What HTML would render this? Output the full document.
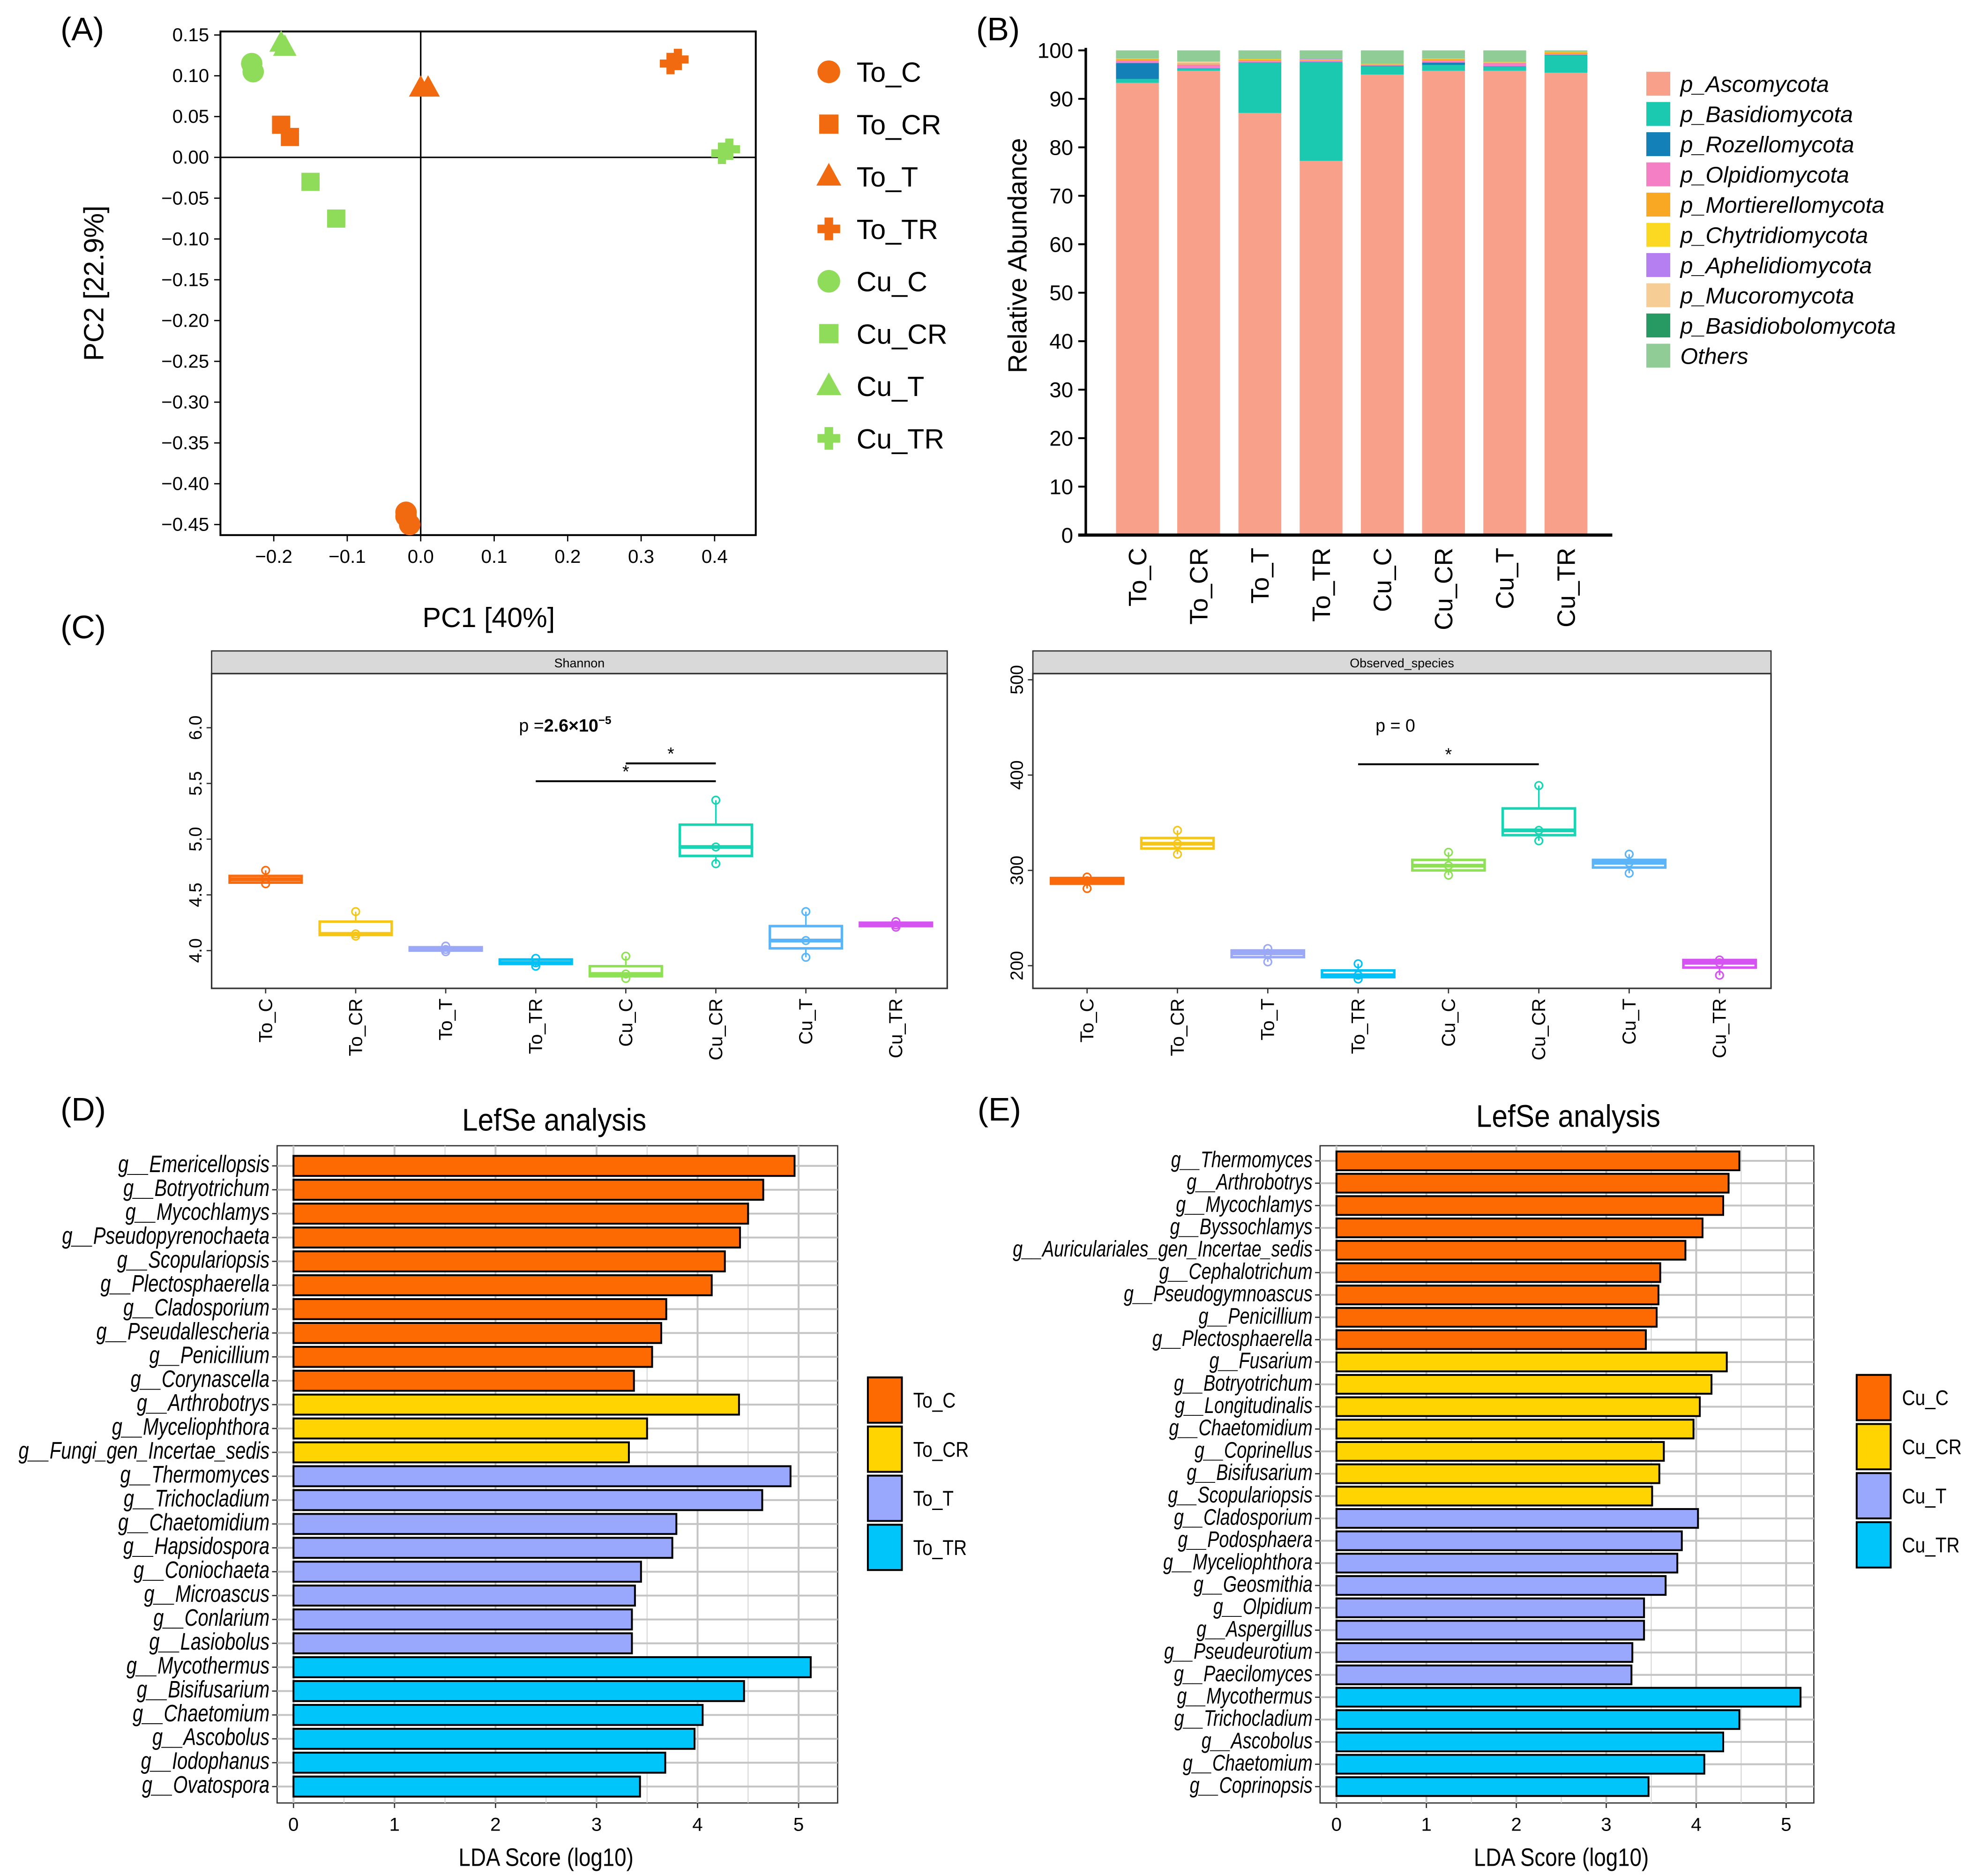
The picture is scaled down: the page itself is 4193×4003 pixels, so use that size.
<!DOCTYPE html>
<html><head><meta charset="utf-8"><style>
html,body{margin:0;padding:0;background:#fff;}
svg{display:block;font-family:"Liberation Sans",Arial,sans-serif;}
</style></head><body>
<svg id="fig" width="4193" height="4003" viewBox="0 0 1560 1490" preserveAspectRatio="none" xmlns="http://www.w3.org/2000/svg">
<rect x="0" y="0" width="1560" height="1490" fill="#fff"/>
<text x="48" y="32" font-size="26">(A)</text>
<text x="775" y="32" font-size="26">(B)</text>
<text x="48" y="507" font-size="26">(C)</text>
<text x="48" y="890" font-size="26">(D)</text>
<text x="776" y="890" font-size="26">(E)</text>
<g id="pA"></g>
<g id="pB"></g>
<g id="pC1"></g>
<g id="pC2"></g>
<g id="pD"></g>
<g id="pE"></g>
</svg>
<script>
// ---------- Panel A data ----------
const pcaGroups = ["To_C","To_CR","To_T","To_TR","Cu_C","Cu_CR","Cu_T","Cu_TR"];
const pcaPC1 = [[-0.02,-0.015,-0.02],[-0.19,-0.178],[0.0,0.01],[0.34,0.35],[-0.23,-0.228],[-0.15,-0.115],[-0.19,-0.185],[0.41,0.42]];
const pcaPC2 = [[-0.435,-0.45,-0.44],[0.04,0.025],[0.085,0.085],[0.115,0.12],[0.115,0.105],[-0.03,-0.075],[0.14,0.135],[0.005,0.01]];
const pcaXTicks = [-0.2,-0.1,0,0.1,0.2,0.3,0.4];
const pcaXTickLabels = ["\u22120.2","\u22120.1","0.0","0.1","0.2","0.3","0.4"];
const pcaYTicks = [0.15,0.1,0.05,0,-0.05,-0.1,-0.15,-0.2,-0.25,-0.3,-0.35,-0.4,-0.45];
// ---------- Panel B data ----------
const abCats = ["To_C","To_CR","To_T","To_TR","Cu_C","Cu_CR","Cu_T","Cu_TR"];
const abPhyla = ["p_Ascomycota","p_Basidiomycota","p_Rozellomycota","p_Olpidiomycota","p_Mortierellomycota","p_Chytridiomycota","p_Aphelidiomycota","p_Mucoromycota","p_Basidiobolomycota","Others"];
const abAsco = [93.3,95.8,87.1,77.2,95.0,95.8,95.8,95.4];
const abBasid = [0.8,0.4,10.3,20.3,1.7,1.2,0.8,3.6];
const abRozel = [3.3,0.1,0.1,0.1,0.1,0.5,0.1,0.1];
const abOlpid = [0.5,0.7,0.3,0.3,0.2,0.4,0.7,0.1];
const abMort = [0.3,0.1,0.3,0.1,0.1,0.3,0.1,0.4];
const abChyt = [0.1,0.1,0.1,0.1,0.1,0.1,0.1,0.1];
const abAphel = [0.0,0.1,0.0,0.1,0.0,0.0,0.0,0.0];
const abMuco = [0.0,0.4,0.0,0.0,0.0,0.0,0.0,0.0];
const abBasidio = [0.0,0.0,0.0,0.0,0.0,0.0,0.0,0.0];
const abOthers = [1.7,2.3,1.8,1.8,2.8,1.7,2.4,0.3];
const abYTicks = [0,10,20,30,40,50,60,70,80,90,100];
// ---------- Panel C data ----------
const divCats = ["To_C","To_CR","To_T","To_TR","Cu_C","Cu_CR","Cu_T","Cu_TR"];
const shQ1 = [4.61,4.14,4.00,3.88,3.77,4.85,4.02,4.22];
const shMed = [4.64,4.15,4.01,3.89,3.79,4.93,4.09,4.23];
const shQ3 = [4.67,4.26,4.03,3.92,3.86,5.13,4.22,4.25];
const shMin = [4.60,4.13,3.99,3.86,3.75,4.78,3.94,4.21];
const shMax = [4.72,4.35,4.04,3.93,3.95,5.35,4.35,4.26];
const shYTicks = [4.0,4.5,5.0,5.5,6.0];
const obQ1 = [286,323,209,188,300,337,303,198];
const obMed = [289,328,213,190,305,342,308,203];
const obQ3 = [292,334,216,195,311,365,311,206];
const obMin = [281,317,204,186,295,331,297,190];
const obMax = [293,342,218,202,319,389,317,206];
const obYTicks = [200,300,400,500];
// ---------- Panel D data ----------
const dTaxa = ["g__Emericellopsis","g__Botryotrichum","g__Mycochlamys","g__Pseudopyrenochaeta","g__Scopulariopsis","g__Plectosphaerella","g__Cladosporium","g__Pseudallescheria","g__Penicillium","g__Corynascella","g__Arthrobotrys","g__Myceliophthora","g__Fungi_gen_Incertae_sedis","g__Thermomyces","g__Trichocladium","g__Chaetomidium","g__Hapsidospora","g__Coniochaeta","g__Microascus","g__Conlarium","g__Lasiobolus","g__Mycothermus","g__Bisifusarium","g__Chaetomium","g__Ascobolus","g__Iodophanus","g__Ovatospora"];
const dLDA = [4.96,4.65,4.50,4.42,4.27,4.14,3.69,3.64,3.55,3.37,4.41,3.50,3.32,4.92,4.64,3.79,3.75,3.44,3.38,3.35,3.35,5.12,4.46,4.05,3.97,3.68,3.43];
const dGroup = [0,0,0,0,0,0,0,0,0,0,1,1,1,2,2,2,2,2,2,2,2,3,3,3,3,3,3];
const dLegend = ["To_C","To_CR","To_T","To_TR"];
// ---------- Panel E data ----------
const eTaxa = ["g__Thermomyces","g__Arthrobotrys","g__Mycochlamys","g__Byssochlamys","g__Auriculariales_gen_Incertae_sedis","g__Cephalotrichum","g__Pseudogymnoascus","g__Penicillium","g__Plectosphaerella","g__Fusarium","g__Botryotrichum","g__Longitudinalis","g__Chaetomidium","g__Coprinellus","g__Bisifusarium","g__Scopulariopsis","g__Cladosporium","g__Podosphaera","g__Myceliophthora","g__Geosmithia","g__Olpidium","g__Aspergillus","g__Pseudeurotium","g__Paecilomyces","g__Mycothermus","g__Trichocladium","g__Ascobolus","g__Chaetomium","g__Coprinopsis"];
const eLDA = [4.48,4.36,4.30,4.07,3.88,3.60,3.58,3.56,3.44,4.34,4.17,4.04,3.97,3.64,3.59,3.51,4.02,3.84,3.79,3.66,3.42,3.42,3.29,3.28,5.16,4.48,4.30,4.09,3.47];
const eGroup = [0,0,0,0,0,0,0,0,0,1,1,1,1,1,1,1,2,2,2,2,2,2,2,2,3,3,3,3,3];
const eLegend = ["Cu_C","Cu_CR","Cu_T","Cu_TR"];
const ldaTicks = [0,1,2,3,4,5];

const NS="http://www.w3.org/2000/svg";
function mk(parent,tag,attrs,text){const e=document.createElementNS(NS,tag);for(const k in attrs)e.setAttribute(k,attrs[k]);if(text!==undefined)e.textContent=text;parent.appendChild(e);return e;}

// ===== Panel A =====
(function(){
const g=document.getElementById('pA');
const X0=175,X1=600,Y0=25,Y1=425;
const sx=v=>334+v*583.3, sy=v=>125-v*648;
mk(g,'rect',{x:X0,y:Y0,width:X1-X0,height:Y1-Y0,fill:'none',stroke:'#000','stroke-width':1.5});
mk(g,'line',{x1:sx(0),x2:sx(0),y1:Y0,y2:Y1,stroke:'#000','stroke-width':1.2});
mk(g,'line',{x1:X0,x2:X1,y1:sy(0),y2:sy(0),stroke:'#000','stroke-width':1.2});
pcaXTicks.forEach((t,i)=>{const x=sx(t);mk(g,'line',{x1:x,x2:x,y1:Y1,y2:Y1+5,stroke:'#000'});
 const tx=mk(g,'text',{x:x,y:Y1+22,'font-size':15,'text-anchor':'middle'},pcaXTickLabels[i]);
 
 });
pcaYTicks.forEach(t=>{const y=sy(t);mk(g,'line',{x1:X0-5,x2:X0,y1:y,y2:y,stroke:'#000'});
 const tx=mk(g,'text',{x:X0-9,y:y+5,'font-size':15,'text-anchor':'end'},(t<0?'\u2212':'')+Math.abs(t).toFixed(2));
 
 });
const xl=mk(g,'text',{x:388,y:498,'font-size':22,'text-anchor':'middle'},'PC1 [40%]');


const yl=mk(g,'text',{x:0,y:0,'font-size':22,'text-anchor':'middle',transform:'translate(82,225) rotate(-90)'},'PC2 [22.9%]');


const colors=['#f26a0f','#f26a0f','#f26a0f','#f26a0f','#8fdb5a','#8fdb5a','#8fdb5a','#8fdb5a'];
const shapes=['c','s','t','p','c','s','t','p'];
function shape(par,sh,x,y,col,r){
 if(sh==='c') return mk(par,'circle',{cx:x,cy:y,r:r,fill:col});
 if(sh==='s') return mk(par,'rect',{x:x-r*0.85,y:y-r*0.85,width:r*1.7,height:r*1.7,fill:col});
 if(sh==='t') return mk(par,'polygon',{points:`${x},${y-r*1.2} ${x-r*1.1},${y+r*0.8} ${x+r*1.1},${y+r*0.8}`,fill:col});
 const a=r*0.38;return mk(par,'path',{d:`M${x-a},${y-r}h${2*a}v${r-a}h${r-a}v${2*a}h${-(r-a)}v${r-a}h${-2*a}v${-(r-a)}h${-(r-a)}v${-2*a}h${r-a}z`,fill:col});
}
pcaGroups.forEach((gr,i)=>{pcaPC1[i].forEach((v,j)=>{
 const m=shape(g,shapes[i],sx(v),sy(pcaPC2[i][j]),colors[i],8.5);
 
 });
 const ly=57+i*41.6;
 const lm=shape(g,shapes[i],658,ly,colors[i],9);
 
 
 const lt=mk(g,'text',{x:680,y:ly+8,'font-size':22},gr);
 
 
});
})();

// ===== Panel B =====
(function(){
const g=document.getElementById('pB');
const X0=862,Y0=425,H=385;
const sy=v=>Y0-v/100*H;
const series=[abAsco,abBasid,abRozel,abOlpid,abMort,abChyt,abAphel,abMuco,abBasidio,abOthers];
const cols=['#f9a08a','#1ac9b0','#1380b8','#f57fc5','#f8a823','#fbd923','#b57ff2','#f5cd95','#279962','#8fcc96'];
abCats.forEach((c,i)=>{const cx=903+i*48.6;let acc=0;
 series.forEach((s,k)=>{const v=s[i];if(v<=0)return;
  const r=mk(g,'rect',{x:cx-17,y:sy(acc+v),width:34,height:sy(acc)-sy(acc+v),fill:cols[k]});
  
  acc+=v;});
 const t=mk(g,'text',{x:0,y:0,'font-size':20,'text-anchor':'end',transform:`translate(${cx+7},${Y0+10}) rotate(-90)`},c);
 
 
});
mk(g,'line',{x1:X0,x2:X0,y1:sy(100)-2,y2:Y0,stroke:'#000','stroke-width':2});
mk(g,'line',{x1:X0-6,x2:1280,y1:Y0,y2:Y0,stroke:'#000','stroke-width':2.5});
abYTicks.forEach(t=>{const y=sy(t);mk(g,'line',{x1:X0-6,x2:X0,y1:y,y2:y,stroke:'#000','stroke-width':1.5});
 const tx=mk(g,'text',{x:X0-10,y:y+6,'font-size':17,'text-anchor':'end'},t);
 
 });
const yl=mk(g,'text',{x:0,y:0,'font-size':21,'text-anchor':'middle',transform:'translate(815,203) rotate(-90)'},'Relative Abundance');


abPhyla.forEach((p,k)=>{const y=57+k*24;
 const r=mk(g,'rect',{x:1307,y:y,width:19,height:19,fill:cols[k]});
 
 
 const t=mk(g,'text',{x:1334,y:y+16,'font-size':18,'font-style':'italic'},p);
 
 });
})();

// ===== Panel C =====
const boxCols=['#fb6a0a','#f5c518','#9aa8f5','#00c0f5','#8ee055','#1ad3b3','#5cb4f8','#d553f0'];
function boxPlot(id,X0,X1,title,yv,ySc,ticks,q1,med,q3,mn,mx,tickFmt){
 const g=document.getElementById(id);
 const Y0=535,Y1=785;
 const head=mk(g,'rect',{x:X0,y:517,width:X1-X0,height:18,fill:'#d9d9d9',stroke:'#333','stroke-width':1});
 
 
 const ht=mk(g,'text',{x:(X0+X1)/2,y:530,'font-size':10,'text-anchor':'middle'},title);
 
 
 mk(g,'rect',{x:X0,y:Y0,width:X1-X0,height:Y1-Y0,fill:'none',stroke:'#333','stroke-width':1.2});
 ticks.forEach(t=>{const y=ySc(t);mk(g,'line',{x1:X0-4,x2:X0,y1:y,y2:y,stroke:'#333'});
  const tx=mk(g,'text',{x:0,y:0,'font-size':14,'text-anchor':'middle',transform:`translate(${X0-8},${y}) rotate(-90)`},tickFmt(t));
  
  });
 const step=(X1-X0)/8.17;
 divCats.forEach((c,i)=>{const cx=X0+step*0.6+i*step;const col=boxCols[i];const w=step*0.8;
  mk(g,'line',{x1:cx,x2:cx,y1:Y1,y2:Y1+4,stroke:'#333'});
  const t=mk(g,'text',{x:0,y:0,'font-size':15,'text-anchor':'end',transform:`translate(${cx+5},${Y1+8}) rotate(-90)`},c);
  
  
  const bg=mk(g,'g',{});
  
  
  mk(bg,'line',{x1:cx,x2:cx,y1:ySc(mx[i]),y2:ySc(q3[i]),stroke:col,'stroke-width':1.2});
  mk(bg,'line',{x1:cx,x2:cx,y1:ySc(q1[i]),y2:ySc(mn[i]),stroke:col,'stroke-width':1.2});
  mk(bg,'rect',{x:cx-w/2,y:ySc(q3[i]),width:w,height:Math.max(ySc(q1[i])-ySc(q3[i]),1.5),fill:'#fff',stroke:col,'stroke-width':2});
  mk(bg,'line',{x1:cx-w/2,x2:cx+w/2,y1:ySc(med[i]),y2:ySc(med[i]),stroke:col,'stroke-width':3});
  [mx[i],med[i],mn[i]].forEach(v=>mk(bg,'circle',{cx:cx,cy:ySc(v),r:3,fill:'none',stroke:col,'stroke-width':1.2}));
 });
 return {g,step,cx:i=>X0+step*0.6+i*step};
}
(function(){
 const sy=v=>755-(v-4)*88.5;
 const b=boxPlot('pC1',168,752,'Shannon',null,sy,shYTicks,shQ1,shMed,shQ3,shMin,shMax,t=>t.toFixed(1));
 const g=b.g;
 const p=mk(g,'text',{x:412,y:581,'font-size':14},'p =');
 mk(p,'tspan',{'font-weight':'bold','font-size':14},'2.6\u00d710');
 mk(p,'tspan',{'font-size':9,'font-weight':'bold',dy:-6},'\u22125');
 
 
 const l1=mk(g,'line',{x1:b.cx(4),x2:b.cx(5),y1:sy(5.68),y2:sy(5.68),stroke:'#000','stroke-width':1.5});
 
 
 mk(g,'text',{x:(b.cx(4)+b.cx(5))/2,y:sy(5.68)-3,'font-size':14,'text-anchor':'middle'},'*');
 const l2=mk(g,'line',{x1:b.cx(3),x2:b.cx(5),y1:sy(5.52),y2:sy(5.52),stroke:'#000','stroke-width':1.5});
 
 
 mk(g,'text',{x:b.cx(4),y:sy(5.52)-3,'font-size':14,'text-anchor':'middle'},'*');
})();
(function(){
 const sy=v=>767-(v-200)*0.757;
 const b=boxPlot('pC2',820,1406,'Observed_species',null,sy,obYTicks,obQ1,obMed,obQ3,obMin,obMax,t=>String(t));
 const g=b.g;
 const p=mk(g,'text',{x:1092,y:581,'font-size':14},'p = 0');
 
 
 const l=mk(g,'line',{x1:b.cx(3),x2:b.cx(5),y1:607,y2:607,stroke:'#000','stroke-width':1.5});
 
 
 mk(g,'text',{x:b.cx(4),y:604,'font-size':14,'text-anchor':'middle'},'*');
})();

// ===== Panels D/E =====
const lefCols=['#fd6a02','#ffd400','#99a8fd','#00c5fb'];
function lefse(id,X0,X1,Y0,Y1,zeroX,unit,firstY,rowStep,taxa,lda,grp,legend,titleX,titleY,legX,legY0,labFont){
 const g=document.getElementById(id);
 const sx=v=>zeroX+v*unit;
 const tt=mk(g,'text',{x:titleX,y:titleY,'font-size':25,'text-anchor':'middle',transform:`translate(${titleX*0.1},0) scale(0.9,1)`},'LefSe analysis');
 
 
 mk(g,'rect',{x:X0,y:Y0,width:X1-X0,height:Y1-Y0,fill:'#fff',stroke:'#333','stroke-width':1});
 for(let v=0.5;sx(v)<X1;v+=1) mk(g,'line',{x1:sx(v),x2:sx(v),y1:Y0,y2:Y1,stroke:'#d6d6d6','stroke-width':0.8});
 ldaTicks.forEach(t=>{mk(g,'line',{x1:sx(t),x2:sx(t),y1:Y0,y2:Y1,stroke:'#c4c4c4','stroke-width':1.5});
  mk(g,'line',{x1:sx(t),x2:sx(t),y1:Y1,y2:Y1+4,stroke:'#333'});
  const tx=mk(g,'text',{x:sx(t),y:Y1+22,'font-size':15,'text-anchor':'middle'},t);
  
  });
 taxa.forEach((n,i)=>{const y=firstY+i*rowStep;
  mk(g,'line',{x1:X0,x2:X1,y1:y,y2:y,stroke:'#c4c4c4','stroke-width':1.5});
  mk(g,'line',{x1:X0-4,x2:X0,y1:y,y2:y,stroke:'#333'});
  const r=mk(g,'rect',{x:sx(0),y:y-rowStep*0.42,width:sx(lda[i])-sx(0),height:rowStep*0.84,fill:lefCols[grp[i]],stroke:'#000','stroke-width':1.5});
  
  
  const t=mk(g,'text',{x:0,y:0,'font-size':labFont,'font-style':'italic','text-anchor':'end',transform:`translate(${X0-6},${y+5}) scale(0.78,1)`},n);
  
  
 });
 const xl=mk(g,'text',{x:0,y:0,'font-size':20,'text-anchor':'middle',transform:`translate(${(sx(0)+sx(5))/2},${Y1+50}) scale(0.85,1)`},'LDA Score (log10)');
 
 
 legend.forEach((l,k)=>{const y=legY0+k*39;
  const r=mk(g,'rect',{x:legX,y:y,width:27,height:36,fill:lefCols[k],stroke:'#000','stroke-width':1.5});
  
  
  const t=mk(g,'text',{x:0,y:0,'font-size':17,transform:`translate(${legX+36},${y+24}) scale(0.85,1)`},l);
  
  });
}
lefse('pD',220,665,910,1432,233,80.2,926,18.96,dTaxa,dLDA,dGroup,dLegend,440,898,689,1094,19);
lefse('pE',1048,1440,910,1432,1061,71.4,922,17.75,eTaxa,eLDA,eGroup,eLegend,1245,895,1474,1092,18);
</script>
</body></html>
